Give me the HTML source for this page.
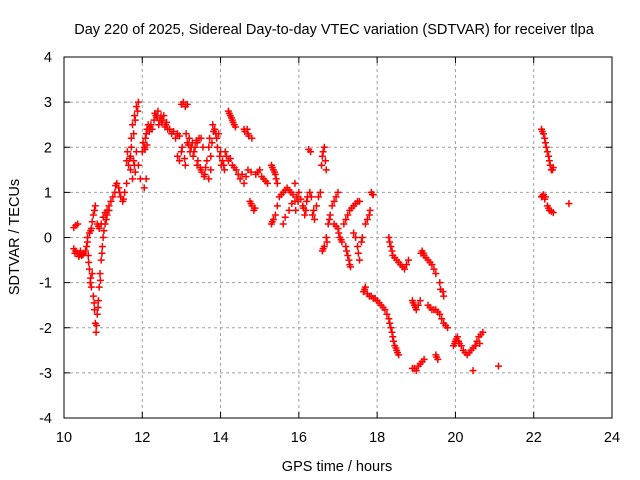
<!DOCTYPE html>
<html><head><meta charset="utf-8"><style>
body{margin:0;background:#fff}
svg{display:block;font-family:"Liberation Sans",sans-serif}
</style></head><body>
<svg id="chart" width="640" height="480" viewBox="0 0 640 480">
<rect width="640" height="480" fill="#fff"/>
<text x="334" y="34" font-size="14.5" text-anchor="middle" fill="#000">Day 220 of 2025, Sidereal Day-to-day VTEC variation (SDTVAR) for receiver tlpa</text>
<g id="grid"></g>
<g id="axes"></g>
<g id="points"></g>
<rect x="64" y="57" width="548" height="361" fill="none" stroke="#000" stroke-width="1"/>
<text x="337" y="471" font-size="14.5" text-anchor="middle">GPS time / hours</text>
<text x="0" y="0" font-size="14.5" text-anchor="middle" transform="translate(19,237) rotate(-90)">SDTVAR / TECUs</text>
</svg>
<script>
const xTicks=[10,12,14,16,18,20,22,24];
const yTicks=[-4,-3,-2,-1,0,1,2,3,4];
const times=[10.25,10.3,10.35,10.25,10.3,10.35,10.4,10.45,10.5,10.55,
10.6,10.62,10.65,10.67,10.7,10.72,10.75,10.78,10.8,10.82,10.85,10.88,10.9,10.92,10.95,10.98,11.0,11.05,11.1,11.15,
10.6,10.65,10.7,10.75,10.8,10.85,10.9,10.95,11.0,11.1,11.2,11.3,11.35,11.4,11.45,11.5,11.55,
11.6,11.65,11.7,11.72,11.75,11.8,11.85,11.9,11.7,11.75,11.8,11.85,11.9,11.95,12.0,12.05,12.1,12.15,12.2,12.25,12.05,12.1,
12.3,12.35,12.4,12.45,12.5,12.55,12.6,12.7,12.8,12.9,13.0,13.05,13.1,13.15,12.9,12.95,13.0,13.1,13.15,13.2,13.25,13.3,13.35,13.4,13.45,13.5,13.55,13.4,13.5,13.6,13.7,13.75,
13.7,13.75,13.8,13.85,13.9,13.95,14.0,14.05,14.1,14.15,14.2,14.25,14.3,14.35,14.2,14.3,14.4,14.5,14.55,14.6,14.7,14.8,14.75,14.8,14.85,14.6,14.7,14.9,15.0,15.1,15.2,
15.3,15.35,15.4,15.45,15.3,15.35,15.4,15.5,15.6,15.7,15.8,15.9,15.6,15.75,15.9,16.0,16.1,16.15,16.2,16.25,16.3,16.35,16.4,16.5,16.55,16.6,16.65,16.7,16.6,16.65,16.7,16.75,16.8,16.9,17.0,
16.9,17.0,17.05,17.1,17.2,17.3,17.4,17.5,17.2,17.25,17.3,17.4,17.5,17.55,17.6,17.7,17.8,17.85,17.9,17.65,17.7,17.8,17.9,18.0,18.1,18.2,18.3,18.35,18.4,18.45,18.5,18.55,
18.3,18.35,18.4,18.5,18.6,18.7,18.8,18.9,18.95,19.0,19.1,19.15,19.2,19.3,19.4,19.5,19.3,19.4,19.5,19.6,19.7,19.8,19.6,19.7,18.9,19.0,19.1,19.2,19.5,19.55,
19.95,20.0,20.05,20.1,20.2,20.3,20.4,20.5,20.6,20.7,20.45,21.1,
22.2,22.25,22.3,22.35,22.4,22.45,22.5,22.2,22.25,22.3,22.35,22.4,22.5,22.9];
const values=[0.22,0.27,0.3,-0.25,-0.3,-0.35,-0.38,-0.4,-0.35,-0.3,
-0.1,-0.4,-0.7,-1.0,-1.1,-0.8,-1.3,-1.6,-1.9,-2.1,-1.7,-1.4,-1.1,-0.8,-0.5,-0.2,0.0,0.3,0.5,0.6,
0.0,0.1,0.2,0.5,0.7,0.3,0.2,0.3,0.45,0.6,0.8,1.0,1.2,1.1,0.9,0.8,1.0,
1.2,1.6,1.8,2.2,2.5,2.7,2.9,3.0,1.5,1.3,1.6,1.9,1.6,1.3,1.9,2.0,2.3,2.5,2.45,2.4,1.1,1.3,
2.6,2.7,2.8,2.6,2.55,2.7,2.5,2.4,2.35,2.3,2.95,3.0,2.9,2.95,1.8,1.7,1.9,1.6,2.1,2.2,2.0,1.8,2.0,2.1,2.2,2.2,2.0,1.6,1.5,1.4,1.3,1.5,
2.0,1.8,2.5,2.4,2.2,2.3,1.9,1.7,1.5,1.8,2.8,2.7,2.6,2.5,1.7,1.6,1.5,1.3,1.4,2.4,2.3,2.2,0.8,0.7,0.6,1.2,1.5,1.4,1.5,1.3,1.2,
1.6,1.5,1.4,1.2,0.3,0.4,0.5,0.9,1.0,1.1,1.0,0.8,0.3,0.6,1.2,1.0,0.7,0.5,0.8,1.95,1.9,0.5,0.4,0.9,1.0,1.8,2.0,1.5,-0.3,-0.2,0.0,0.3,0.5,0.8,1.0,
0.3,0.2,0.0,-0.1,0.4,0.6,0.7,0.8,-0.2,-0.4,-0.6,0.1,-0.2,-0.5,-0.1,0.3,0.5,1.0,0.95,-1.2,-1.1,-1.3,-1.35,-1.4,-1.5,-1.6,-1.8,-2.0,-2.2,-2.4,-2.5,-2.6,
0.0,-0.2,-0.4,-0.5,-0.6,-0.7,-0.5,-1.4,-1.5,-1.6,-1.4,-0.3,-0.4,-0.5,-0.6,-0.8,-1.5,-1.6,-1.6,-1.7,-1.9,-2.0,-1.0,-1.3,-2.9,-2.95,-2.8,-2.7,-2.6,-2.7,
-2.4,-2.3,-2.2,-2.35,-2.5,-2.6,-2.5,-2.4,-2.2,-2.1,-2.95,-2.85,
2.4,2.3,2.1,1.9,1.7,1.5,1.55,0.9,0.95,0.9,0.7,0.6,0.55,0.75];
const times2=[11.6,11.62,11.68,11.72,11.78,11.82,11.88,11.78,11.82,
12.02,12.08,12.12,12.18,12.22,12.07,12.12,
12.32,12.38,12.42,12.48,12.52,12.58,12.62,12.65,12.75,12.85,12.95,
13.02,13.08,13.12,13.18,13.22,13.28,13.32,13.38,13.42,13.48,13.52,13.58,13.62,13.65,
13.72,13.78,13.82,13.88,13.92,13.98,14.02,14.08,14.12,
14.22,14.28,14.32,14.38,14.25,14.35,14.45,14.62,14.68,14.72,14.78,14.88,14.65,14.78,14.95,15.05,15.15,
15.32,15.38,15.42,15.32,15.45,15.55,15.65,15.75,15.85,15.95,15.65,15.82,15.92,15.98,16.05,16.12,16.18,16.22,16.28,16.32,16.38,16.45,16.58,16.62,16.68,16.62,16.72,16.78,16.85,16.95,
16.95,17.02,17.08,17.15,17.25,17.35,17.45,17.55,17.22,17.28,17.32,17.45,17.52,17.62,17.75,17.82,17.88,17.68,17.75,17.85,17.95,18.05,18.15,18.25,18.32,18.38,18.42,18.48,18.52,
18.32,18.38,18.45,18.55,18.65,18.75,18.92,18.98,19.05,19.12,19.18,19.25,19.35,19.45,19.35,19.45,19.55,19.65,19.75,19.62,19.68,18.95,19.05,19.15,19.52,
19.98,20.02,20.08,20.15,20.25,20.35,20.45,20.55,20.65,20.52,20.62,
10.28,10.38,10.42,10.48,10.58,10.63,10.68,10.77,10.83,10.87,10.93,10.97,11.02,11.08,10.68,10.72,10.78,10.88,11.05,11.15,11.25,11.32,11.42,11.52,
22.22,22.28,22.32,22.38,22.42,22.48,22.22,22.28,22.38,22.45];
const values2=[1.7,1.9,1.75,2.0,2.3,2.6,2.8,1.7,1.45,
2.1,2.2,2.4,2.35,2.5,1.95,2.05,
2.75,2.65,2.5,2.7,2.6,2.45,2.55,2.4,2.3,2.2,2.25,
2.0,1.75,2.3,2.05,1.9,2.1,1.9,2.15,1.7,1.55,1.45,1.35,1.55,1.7,
2.2,2.1,2.35,2.3,2.0,1.8,1.6,1.6,1.9,
2.75,2.65,2.55,2.45,1.75,1.55,1.4,2.35,2.4,2.25,0.75,0.65,1.35,1.45,1.45,1.35,1.25,
1.55,1.45,1.3,0.35,0.7,0.95,1.05,1.05,0.95,0.9,0.45,0.75,0.6,0.8,0.85,0.65,0.6,0.9,1.0,0.9,0.6,0.7,1.6,1.9,1.7,-0.25,-0.1,0.4,0.7,0.9,
0.25,0.1,-0.05,0.3,0.5,0.65,0.75,0.8,-0.3,-0.5,-0.65,0.0,-0.35,0.0,0.4,0.6,0.95,-1.15,-1.25,-1.3,-1.35,-1.45,-1.55,-1.7,-1.9,-2.1,-2.3,-2.45,-2.55,
-0.1,-0.3,-0.45,-0.55,-0.65,-0.6,-1.45,-1.55,-1.5,-0.35,-0.35,-0.45,-0.55,-0.7,-1.55,-1.6,-1.65,-1.8,-1.95,-1.15,-1.2,-2.9,-2.85,-2.75,-2.65,
-2.35,-2.25,-2.3,-2.4,-2.55,-2.55,-2.45,-2.3,-2.15,-2.4,-2.35,
-0.35,-0.42,-0.3,-0.38,-0.2,-0.55,-0.9,-1.45,-1.95,-1.55,-0.95,-0.35,0.15,0.4,0.15,0.35,0.6,0.25,0.55,0.7,0.9,1.15,1.0,0.85,
2.35,2.2,2.0,1.8,1.6,1.5,0.92,0.85,0.65,0.58];

const L=64,R=612,T=57,B=418;
const xs=t=>L+(t-10)/(24-10)*(R-L);
const ys=v=>B-(v+4)/8*(B-T);
const NS='http://www.w3.org/2000/svg';
const grid=document.getElementById('grid'),axes=document.getElementById('axes'),pts=document.getElementById('points');
function mk(tag,at,parent){const e=document.createElementNS(NS,tag);for(const k in at)e.setAttribute(k,at[k]);parent.appendChild(e);return e;}
xTicks.forEach(t=>{
  const x=xs(t);
  if(t>10&&t<24){const g=mk('line',{x1:x,x2:x,y1:T,y2:B,stroke:'#a0a0a0','stroke-dasharray':'3,3'},grid);
  
  }
  const a=mk('line',{x1:x,x2:x,y1:B,y2:B-6,stroke:'#000'},axes);
  
  
  const b=mk('line',{x1:x,x2:x,y1:T,y2:T+6,stroke:'#000'},axes);
  
  
  const tx=mk('text',{x:x,y:B+24,'font-size':14.5,'text-anchor':'middle'},axes);tx.textContent=t;
  
  
});
yTicks.forEach(v=>{
  const y=ys(v);
  if(v>-4&&v<4){const g=mk('line',{x1:L,x2:R,y1:y,y2:y,stroke:'#a0a0a0','stroke-dasharray':'3,3'},grid);
  
  }
  const a=mk('line',{x1:L,x2:L+6,y1:y,y2:y,stroke:'#000'},axes);
  
  
  const b=mk('line',{x1:R,x2:R-6,y1:y,y2:y,stroke:'#000'},axes);
  
  
  const tx=mk('text',{x:L-12,y:y+5,'font-size':14.5,'text-anchor':'end'},axes);tx.textContent=v;
  
  
});
function drawPts(tt,vv){
  tt.forEach((t,i)=>{
    const x=xs(t),y=ys(vv[i]);
    const p=mk('path',{d:`M${x-3.5},${y}H${x+3.5}M${x},${y-3.5}V${y+3.5}`,stroke:'#ff0000','stroke-width':1.5,fill:'none'},pts);
    
    
  });
}
drawPts(times,values);
drawPts(times2,values2);
</script>
</body></html>
